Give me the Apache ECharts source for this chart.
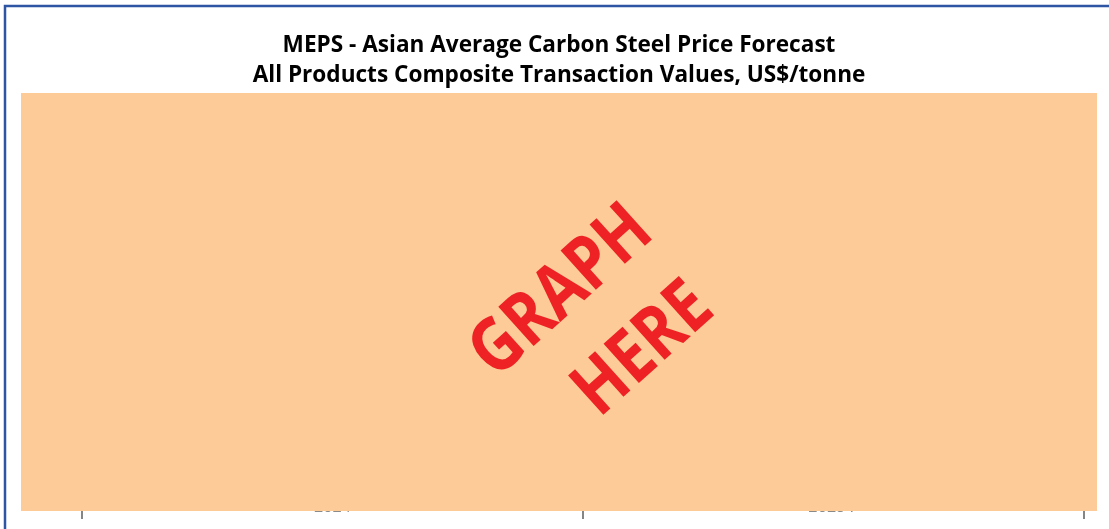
<!DOCTYPE html>
<html>
<head>
<meta charset="utf-8">
<script src="https://cdn.jsdelivr.net/npm/echarts@6/dist/echarts.min.js"></script>
<style>
html,body{margin:0;padding:0;background:#fff;}
#chart{width:1109px;height:529px;}
</style>
</head>
<body>
<div id="chart"></div>
<script>
// ---- data ----
var titleLines = ['MEPS - Asian Average Carbon Steel Price Forecast', 'All Products Composite Transaction Values, US$/tonne'];
var categories = ['2024', '2025 F'];
var priceValues = [780, 760];
var placeholderLines = ['GRAPH', 'HERE'];

var chart = echarts.init(document.getElementById('chart'), null, {renderer: 'canvas'});
var rot = 42 * Math.PI / 180;
var bigFont = 'bold 74px "Open Sans", "Liberation Sans", sans-serif';
var option = {
  backgroundColor: '#ffffff',
  animation: false,
  title: {
    text: titleLines.join('\n'),
    left: 554,
    top: 26,
    textAlign: 'center',
    textStyle: {
      fontFamily: '"Open Sans", sans-serif',
      fontWeight: 'bold',
      fontSize: 22.6,
      lineHeight: 30,
      color: '#000000'
    }
  },
  grid: {left: 82, right: 25, top: 93, bottom: 18, containLabel: false},
  xAxis: {
    type: 'category',
    data: categories,
    boundaryGap: true,
    axisLine: {show: false},
    axisTick: {show: true, length: 8, lineStyle: {color: '#858585', width: 2}},
    axisLabel: {margin: -12, fontSize: 16, color: '#8a8a8a', fontFamily: 'Lato, sans-serif'},
    splitLine: {show: false}
  },
  yAxis: {type: 'value', show: false, min: 0, max: 1000},
  series: [{
    type: 'line',
    data: priceValues,
    symbol: 'none',
    lineStyle: {color: '#1f4e9a', width: 2},
    z: 1
  }],
  graphic: [
    {
      type: 'rect', z: 100,
      shape: {x: 21, y: 93, width: 1076, height: 418},
      style: {fill: '#FCCB97'}
    },
    {
      type: 'text', z: 101,
      x: 562, y: 292, rotation: rot, scaleX: 0.84,
      style: {
        text: placeholderLines[0],
        fill: '#EE2224',
        font: bigFont,
        textAlign: 'center', textVerticalAlign: 'middle'
      }
    },
    {
      type: 'text', z: 101,
      x: 644, y: 350, rotation: rot, scaleX: 0.84,
      style: {
        text: placeholderLines[1],
        fill: '#EE2224',
        font: bigFont,
        textAlign: 'center', textVerticalAlign: 'middle'
      }
    },
    {
      type: 'rect', z: 102,
      shape: {x: 5, y: 6, width: 1300, height: 700},
      style: {fill: 'none', stroke: '#2E54A4', lineWidth: 2.5}
    }
  ]
};
chart.setOption(option);
</script>
</body>
</html>
